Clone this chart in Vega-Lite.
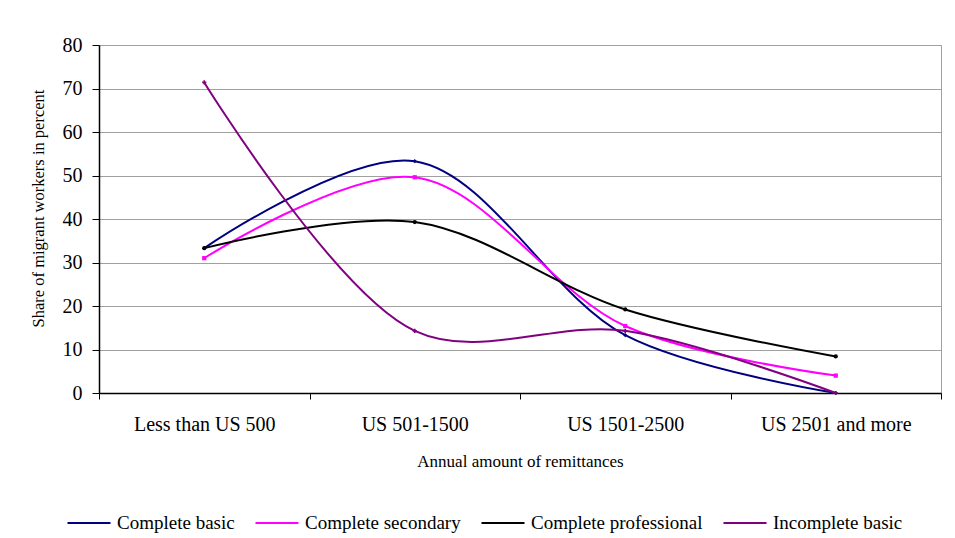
{
  "$schema": "https://vega.github.io/schema/vega-lite/v6.json",
  "width": 842,
  "height": 348,
  "autosize": {"type": "none"},
  "padding": {"left": 99, "top": 45, "right": 14, "bottom": 145},
  "background": "white",
  "config": {
    "font": "Liberation Serif",
    "view": {"stroke": "#a0a0a0", "strokeWidth": 1}
  },
  "data": {
    "values": [
      {"cat": "Less than US 500", "series": "Complete basic", "v": 33.3},
      {"cat": "US 501-1500", "series": "Complete basic", "v": 53.3},
      {"cat": "US 1501-2500", "series": "Complete basic", "v": 13.3},
      {"cat": "US 2501 and more", "series": "Complete basic", "v": 0},
      {"cat": "Less than US 500", "series": "Complete secondary", "v": 31.0},
      {"cat": "US 501-1500", "series": "Complete secondary", "v": 49.6},
      {"cat": "US 1501-2500", "series": "Complete secondary", "v": 15.4},
      {"cat": "US 2501 and more", "series": "Complete secondary", "v": 4.0},
      {"cat": "Less than US 500", "series": "Complete professional", "v": 33.3},
      {"cat": "US 501-1500", "series": "Complete professional", "v": 39.3},
      {"cat": "US 1501-2500", "series": "Complete professional", "v": 19.2},
      {"cat": "US 2501 and more", "series": "Complete professional", "v": 8.4},
      {"cat": "Less than US 500", "series": "Incomplete basic", "v": 71.4},
      {"cat": "US 501-1500", "series": "Incomplete basic", "v": 14.3},
      {"cat": "US 1501-2500", "series": "Incomplete basic", "v": 14.3},
      {"cat": "US 2501 and more", "series": "Incomplete basic", "v": 0}
    ]
  },
  "encoding": {
    "x": {
      "field": "cat",
      "type": "ordinal",
      "sort": ["Less than US 500", "US 501-1500", "US 1501-2500", "US 2501 and more"],
      "bandPosition": 0.5,
      "scale": {"type": "band", "paddingInner": 0, "paddingOuter": 0},
      "axis": {
        "title": "Annual amount of remittances",
        "titleFont": "Liberation Serif",
        "titleFontSize": 17,
        "titleFontWeight": "normal",
        "titleColor": "black",
        "titlePadding": 19,
        "labelFont": "Liberation Serif",
        "labelFontSize": 20,
        "labelColor": "black",
        "labelAngle": 0,
        "labelPadding": 15,
        "tickBand": "extent",
        "tickSize": 6,
        "tickColor": "black",
        "domainColor": "black",
        "domainWidth": 1.5,
        "grid": false
      }
    },
    "y": {
      "field": "v",
      "type": "quantitative",
      "scale": {"domain": [0, 80]},
      "axis": {
        "values": [0, 10, 20, 30, 40, 50, 60, 70, 80],
        "title": "Share of migrant workers in percent",
        "titleFont": "Liberation Serif",
        "titleFontSize": 16.5,
        "titleFontWeight": "normal",
        "titleColor": "black",
        "titleX": -61,
        "titleY": 163,
        "titleBaseline": "middle",
        "titleAlign": "center",
        "labelFont": "Liberation Serif",
        "labelFontSize": 20,
        "labelColor": "black",
        "labelPadding": 10,
        "tickSize": 7,
        "tickColor": "black",
        "domainColor": "black",
        "domainWidth": 1.5,
        "grid": true,
        "gridColor": "#a0a0a0",
        "gridWidth": 1.2
      }
    }
  },
  "layer": [
    {
      "mark": {"type": "line", "interpolate": "catmull-rom", "strokeWidth": 2},
      "encoding": {
        "color": {
          "field": "series",
          "type": "nominal",
          "sort": ["Complete basic", "Complete secondary", "Complete professional", "Incomplete basic"],
          "scale": {
            "domain": ["Complete basic", "Complete secondary", "Complete professional", "Incomplete basic"],
            "range": ["#000080", "#ff00ff", "#000000", "#800080"]
          },
          "legend": {
            "title": null,
            "orient": "none",
            "legendX": -33,
            "legendY": 455,
            "direction": "horizontal",
            "gridAlign": "none",
            "symbolType": "stroke",
            "symbolSize": 1850,
            "symbolStrokeWidth": 2,
            "labelFont": "Liberation Serif",
            "labelFontSize": 19,
            "labelColor": "black",
            "labelOffset": 5,
            "columnPadding": 16,
            "labelLimit": 300
          }
        }
      }
    },
    {
      "mark": {"type": "point", "filled": true, "size": 18, "opacity": 1},
      "encoding": {
        "color": {
          "field": "series",
          "type": "nominal",
          "legend": null
        },
        "shape": {
          "field": "series",
          "type": "nominal",
          "scale": {
            "domain": ["Complete basic", "Complete secondary", "Complete professional", "Incomplete basic"],
            "range": ["diamond", "square", "circle", "cross"]
          },
          "legend": null
        }
      }
    }
  ],
  "resolve": {"legend": {"color": "independent", "shape": "independent"}}
}
